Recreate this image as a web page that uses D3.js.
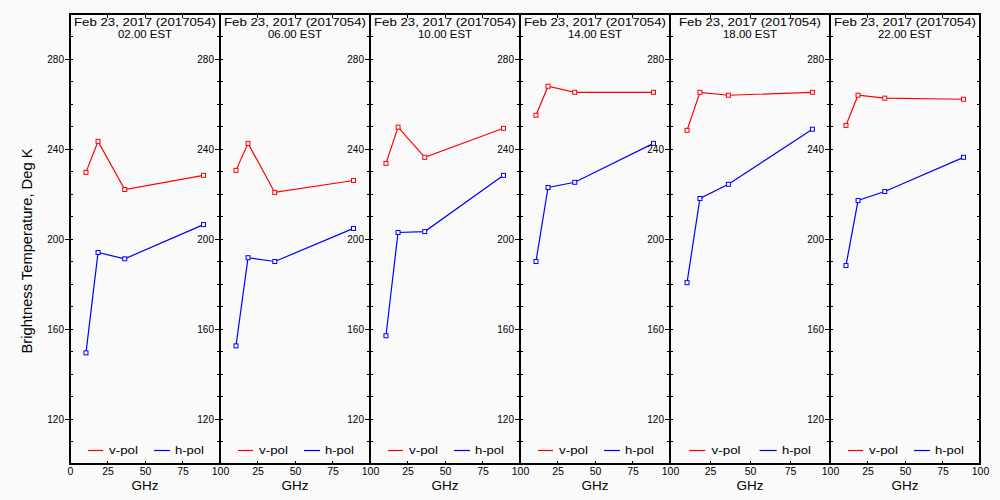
<!DOCTYPE html>
<html>
<head>
<meta charset="utf-8">
<script src="https://cdn.jsdelivr.net/npm/d3@7"></script>
<style>
  html, body { margin: 0; padding: 0; background: #fafafa; }
  svg { display: block; }
  text { font-family: "Liberation Sans", Arial, sans-serif; fill: #000; }
</style>
</head>
<body>
<svg id="chart" width="1000" height="500"></svg>
<script>
// ---------------- data ----------------
const frequencies = [10.65, 18.7, 36.5, 89.0];
const dateLabel = "Feb 23, 2017 (2017054)";
const timeLabels = ["02.00 EST", "06.00 EST", "10.00 EST", "14.00 EST", "18.00 EST", "22.00 EST"];
const vpol02 = [229.6, 243.4, 222.0, 228.3];
const hpol02 = [149.4, 194.0, 191.2, 206.4];
const vpol06 = [230.5, 242.5, 220.7, 226.0];
const hpol06 = [152.5, 191.7, 190.0, 204.7];
const vpol10 = [233.6, 249.7, 236.3, 249.2];
const hpol10 = [157.0, 202.9, 203.3, 228.3];
const vpol14 = [255.0, 267.9, 265.2, 265.2];
const hpol14 = [190.0, 222.9, 225.2, 242.5];
const vpol18 = [248.3, 265.2, 263.9, 265.2];
const hpol18 = [180.6, 218.0, 224.3, 248.8];
const vpol22 = [250.5, 263.9, 262.6, 262.1];
const hpol22 = [188.2, 217.1, 221.1, 236.3];
const xTickValues = [0, 25, 50, 75, 100];
const yMajorTicks = [120, 160, 200, 240, 280];
const yMinorTicks = [110, 130, 140, 150, 170, 180, 190, 210, 220, 230, 250, 260, 270, 290];
const seriesNames = ["v-pol", "h-pol"];
const seriesColors = ["#ff0000", "#0000ff"];

const vpolAll = [vpol02, vpol06, vpol10, vpol14, vpol18, vpol22];
const hpolAll = [hpol02, hpol06, hpol10, hpol14, hpol18, hpol22];

// ---------------- layout ----------------
const edges = [70, 220, 370, 520, 670, 830, 980];
const plotTop = 14, plotBottom = 464;
const svg = d3.select("#chart");
svg.append("rect").attr("width", 1000).attr("height", 500).attr("fill", "#fafafa");

const y = d3.scaleLinear().domain([100, 300]).range([plotBottom, plotTop]);

const g = svg.append("g");

timeLabels.forEach((tl, i) => {
  const x0 = edges[i], x1 = edges[i + 1];
  const x = d3.scaleLinear().domain([0, 100]).range([x0, x1]);
  const p = g.append("g");

  // left axis: major ticks outside with labels + inside, minor inside
  const leftAxis = d3.axisLeft(y).tickValues(yMajorTicks).tickSize(5).tickPadding(1).tickFormat(d3.format("d"));
  const la = p.append("g").attr("transform", `translate(${x0},0)`).call(leftAxis);
  la.select(".domain").remove();
  la.selectAll(".tick line").attr("x2", -5).attr("x1", 3).attr("stroke", "#000");
  la.selectAll(".tick text").attr("font-size", 10).attr("font-family", "Liberation Sans, Arial, sans-serif");
  p.append("g").selectAll("line").data(yMinorTicks).join("line")
    .attr("x1", x0).attr("x2", x0 + 3).attr("y1", d => y(d)).attr("y2", d => y(d))
    .attr("stroke", "#000").attr("stroke-width", 1).attr("shape-rendering", "crispEdges");
  // right edge inward ticks
  p.append("g").selectAll("line").data(yMajorTicks.concat(yMinorTicks)).join("line")
    .attr("x1", x1 - 3).attr("x2", x1).attr("y1", d => y(d)).attr("y2", d => y(d))
    .attr("stroke", "#000").attr("stroke-width", 1).attr("shape-rendering", "crispEdges");

  // bottom axis
  const xt = i === 0 ? xTickValues : xTickValues.slice(1);
  const bAxis = d3.axisBottom(x).tickValues(xt).tickSize(0).tickPadding(2).tickFormat(d3.format("d"));
  const ba = p.append("g").attr("transform", `translate(0,${plotBottom})`).call(bAxis);
  ba.select(".domain").remove();
  ba.selectAll(".tick text").attr("font-size", 10.5).attr("dy", "0.9em").attr("font-family", "Liberation Sans, Arial, sans-serif");
  // inner x ticks at bottom and top
  p.append("g").selectAll("line").data([25, 50, 75]).join("line")
    .attr("x1", d => x(d)).attr("x2", d => x(d)).attr("y1", plotBottom).attr("y2", plotBottom - 3)
    .attr("stroke", "#000").attr("shape-rendering", "crispEdges");
  p.append("g").selectAll("line").data([25, 50, 75]).join("line")
    .attr("x1", d => x(d)).attr("x2", d => x(d)).attr("y1", plotTop).attr("y2", plotTop + 4)
    .attr("stroke", "#000").attr("shape-rendering", "crispEdges");

  // titles
  const cx = (x0 + x1) / 2;
  p.append("text").attr("x", cx).attr("y", 26).attr("text-anchor", "middle")
    .attr("font-size", 10.5).attr("textLength", 142).attr("lengthAdjust", "spacingAndGlyphs").text(dateLabel);
  p.append("text").attr("x", cx).attr("y", 37.8).attr("text-anchor", "middle")
    .attr("font-size", 10.5).attr("textLength", 54).attr("lengthAdjust", "spacingAndGlyphs").text(tl);
  p.append("text").attr("x", cx).attr("y", 490).attr("text-anchor", "middle")
    .attr("font-size", 13.5).text("GHz");

  // series
  const line = d3.line().x((d, k) => x(frequencies[k])).y(d => y(d));
  [vpolAll[i], hpolAll[i]].forEach((vals, s) => {
    p.append("path").datum(vals).attr("d", line).attr("fill", "none")
      .attr("stroke", seriesColors[s]).attr("stroke-width", 1.2);
    p.append("g").selectAll("rect").data(vals).join("rect")
      .attr("x", (d, k) => x(frequencies[k]) - 2).attr("y", d => y(d) - 2)
      .attr("width", 4).attr("height", 4)
      .attr("fill", "#fafafa").attr("stroke", seriesColors[s]).attr("stroke-width", 1);
  });

  // legend
  const ly = y(106);
  const legendPos = [[12, 22, 26], [56, 66.7, 70]];
  seriesNames.forEach((nm, s) => {
    const lp = legendPos[s];
    p.append("line").attr("x1", x(lp[0])).attr("x2", x(lp[1])).attr("y1", ly).attr("y2", ly)
      .attr("stroke", seriesColors[s]).attr("stroke-width", 1.2);
    p.append("text").attr("x", x(lp[2])).attr("y", ly + 3.5).attr("font-size", 11.5)
      .attr("textLength", 29).attr("lengthAdjust", "spacingAndGlyphs").text(nm);
  });
});

// frame lines
const frame = svg.append("g").attr("stroke", "#000").attr("stroke-width", 2);
edges.forEach(e => frame.append("line").attr("x1", e).attr("x2", e).attr("y1", plotTop).attr("y2", plotBottom));
frame.append("line").attr("x1", edges[0] - 1).attr("x2", edges[6] + 1).attr("y1", plotTop).attr("y2", plotTop);
frame.append("line").attr("x1", edges[0] - 1).attr("x2", edges[6] + 1).attr("y1", plotBottom).attr("y2", plotBottom);

// y axis title
svg.append("text").attr("transform", `translate(32,251) rotate(-90)`).attr("text-anchor", "middle")
  .attr("font-size", 14.5).attr("textLength", 205).attr("lengthAdjust", "spacingAndGlyphs")
  .text("Brightness Temperature, Deg K");
</script>
</body>
</html>
